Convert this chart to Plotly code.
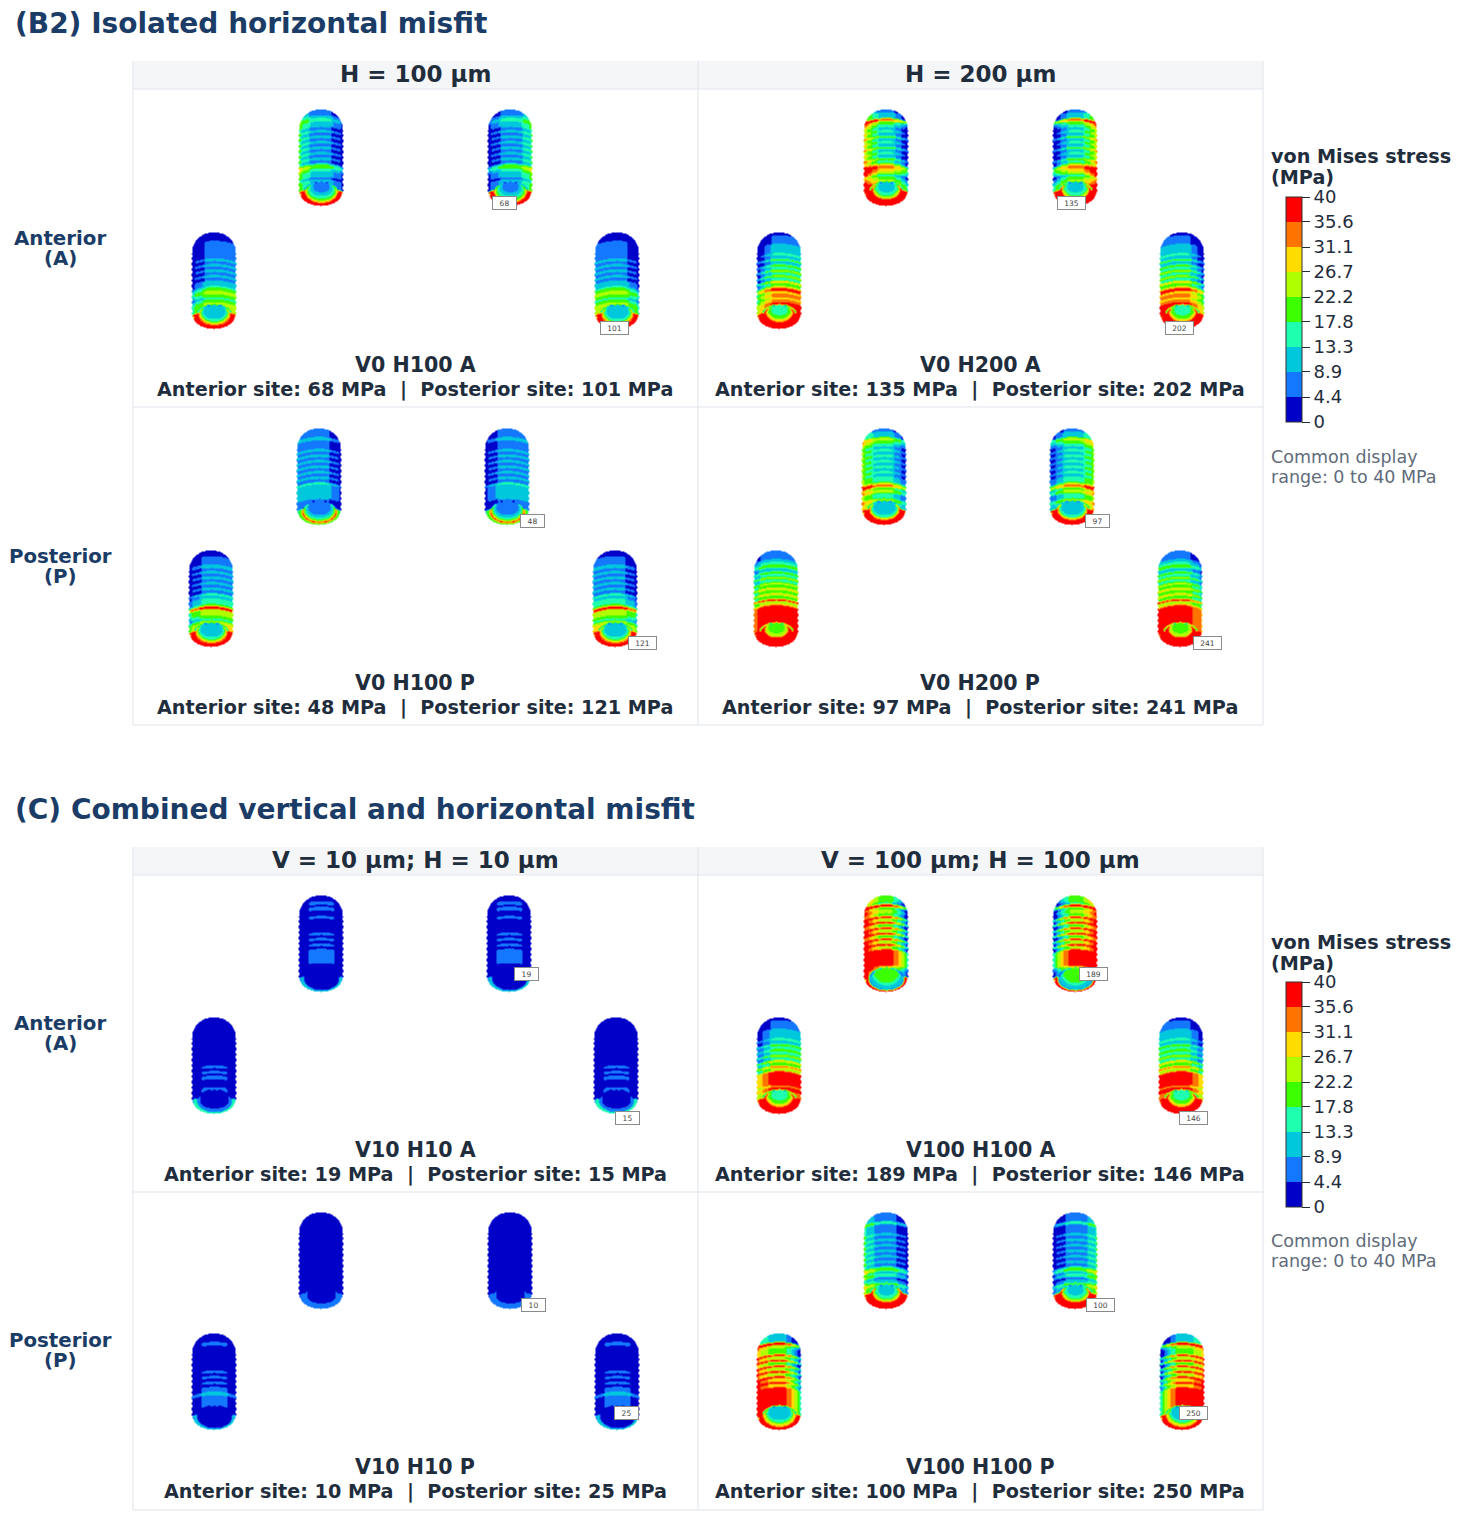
import math
import plotly.graph_objects as go

# ---- colour legend -------------------------------------------------------
LEVEL_COLORS = ["#0000c8", "#1478ff", "#00c8dc", "#1effb0", "#3cff00",
                "#b0ff00", "#ffdc00", "#ff7300", "#ff0000"]
TICK_VALUES = [0, 4.44, 8.89, 13.33, 17.78, 22.22, 26.67, 31.11, 35.56, 40]
TICK_LABELS = ["0", "4.4", "8.9", "13.3", "17.8", "22.2", "26.7", "31.1", "35.6", "40"]

# ---- stress read along each implant, top to bottom, MPa -------------------
# 6 dome rows, 14 thread rows, 7 collar rows
V0H100A_UP = [6,6,11,15,11,11, 6,11,6,11,6,11,6,11,6,11,6,11,6,15, 20,15,11,11,6,11,11]
V0H100A_LO = [2,2,2,6,6,6, 6,6,6,11,6,11,6,11,6,11,6,11,11,15, 20,24,20,15,20,24,24]
V0H200A_UP = [6,11,11,33,20,15, 11,15,11,20,11,15,11,20,11,15,11,20,15,24, 33,29,24,15,20,24,29]
V0H200A_LO = [2,6,6,6,11,11, 11,15,11,20,11,20,15,24,15,24,15,29,20,29, 38,29,33,29,33,38,38]
V0H100P_UP = [6,6,6,11,6,6, 6,11,6,11,6,11,6,11,6,11,6,11,6,15, 11,11,11,11,11,6,6]
V0H100P_LO = [2,2,6,6,6,11, 6,11,6,11,6,11,6,11,6,15,11,15,15,20, 38,24,24,20,15,24,29]
V0H200P_UP = [6,11,11,24,20,15, 11,15,11,15,11,15,11,15,11,15,11,15,15,24, 33,20,24,15,15,24,20]
V0H200P_LO = [6,6,6,11,15,20, 11,20,15,24,15,24,20,29,20,29,20,38,24,33, 38,38,38,38,38,38,38]
V10H10A_UP = [2,2,6,2,6,2, 2,6,2,2,2,2,2,6,2,6,2,6,2,6, 6,6,6,6,2,2,2]
V10H10A_LO = [2,2,2,2,2,2, 2,2,2,2,2,2,2,2,2,2,2,6,2,6, 2,6,2,2,2,6,6]
V100H100A_UP = [20,20,15,38,20,24, 20,38,24,38,20,38,24,38,20,38,24,38,24,38, 38,38,38,38,38,29,24]
V100H100A_LO = [2,6,6,6,11,11, 11,15,11,20,15,20,15,24,15,29,20,33,24,38, 38,38,38,38,33,38,33]
V10H10P_UP = [2,2,2,2,2,2, 2,2,2,2,2,2,2,2,2,2,2,2,2,2, 2,2,2,2,2,2,2]
V10H10P_LO = [2,2,2,6,2,2, 2,2,2,2,2,2,2,6,2,6,2,6,2,6, 6,11,6,6,6,6,2]
V100H100P_UP = [6,6,6,15,6,6, 6,11,6,11,6,11,6,11,6,11,6,11,6,15, 20,11,15,6,11,20,15]
V100H100P_LO = [11,11,11,38,24,20, 20,38,24,38,20,38,24,38,24,38,29,38,29,38, 38,38,38,38,38,38,38]

# opening: from the floor of the bore to its lower wall, MPa
V0H100A_BORE = [[6,11,15,20,29,38], [11,11,15,24,33,38]]
V0H200A_BORE = [[11,15,24,38,38,38], [15,20,29,38,38,38]]
V0H100P_BORE = [[6,6,11,15,24,38], [11,11,15,24,33,38]]
V0H200P_BORE = [[11,11,15,29,38,38], [20,24,38,38,38,38]]
V10H10A_BORE = [[2,2,2,2,2,2], [2,2,2,2,6,6]]
V100H100A_BORE = [[20,20,15,11,11,6], [15,20,29,38,38,38]]
V10H10P_BORE = [[2,2,2,2,6,6], [2,2,2,2,2,2]]
V100H100P_BORE = [[11,15,24,38,38,38], [11,11,15,24,29,38]]

# collar rim: inner, outer, MPa
V0H100A_RIM = [[38,20], [38,24]]
V0H200A_RIM = [[38,38], [38,38]]
V0H100P_RIM = [[20,15], [38,33]]
V0H200P_RIM = [[38,24], [38,38]]
V10H10A_RIM = [[11,2], [15,2]]
V100H100A_RIM = [[38,24], [38,38]]
V10H10P_RIM = [[6,2], [11,2]]
V100H100P_RIM = [[38,33], [38,24]]

# left / right stress offset of each view, MPa (upper-left, upper-right, lower-left, lower-right)
V0H100A_SIDE = [(5,-5), (-5,5), (-5,0), (0,-5)]
V0H200A_SIDE = [(9,-9), (-9,9), (-9,0), (0,-9)]
V0H100P_SIDE = [(0,-5), (-5,0), (-5,0), (0,-5)]
V0H200P_SIDE = [(5,-7), (-7,5), (-2,0), (0,-5)]
V10H10A_SIDE = [(-3,-3), (-3,-3), (-3,-3), (-3,-3)]
V100H100A_SIDE = [(10,-15), (-15,10), (-7,0), (0,-7)]
V10H10P_SIDE = [(0,0), (0,0), (-3,-3), (-3,-3)]
V100H100P_SIDE = [(5,-5), (-5,5), (5,-15), (-15,5)]

# ---- texts ---------------------------------------------------------------
COLUMN_HEADS = [["H = 100 µm", "H = 200 µm"], ["V = 10 µm; H = 10 µm", "V = 100 µm; H = 100 µm"]]
SECTION_TITLES = ["(B2) Isolated horizontal misfit", "(C) Combined vertical and horizontal misfit"]
CASE_NAMES = ["V0 H100 A", "V0 H200 A", "V0 H100 P", "V0 H200 P",
              "V10 H10 A", "V100 H100 A", "V10 H10 P", "V100 H100 P"]
ANTERIOR_MPA = [68, 135, 48, 97, 19, 189, 10, 100]
POSTERIOR_MPA = [101, 202, 121, 241, 15, 146, 25, 250]

# ---- layout of the sheet -------------------------------------------------
NAVY, INK, GREY, RULE = "#1a3c66", "#1f2d3d", "#5f6b7a", "#dfe4ea"
FONT = "DejaVu Sans"
IMPLANT_POS = [
    [(321,110),(510,110),(214,233),(617,233)], [(886,110),(1075,110),(779,233),(1182,233)],
    [(319,429),(507,429),(211,551),(615,551)], [(884,429),(1072,429),(776,551),(1180,551)],
    [(321,896),(509,896),(214,1018),(616,1018)], [(886,896),(1075,896),(779,1018),(1181,1018)],
    [(321,1213),(510,1213),(214,1334),(617,1334)], [(886,1213),(1075,1213),(779,1334),(1182,1334)],
]
TAG_POS = [
    [(504,203),(614,328)], [(1071,203),(1179,328)], [(532,521),(642,643)], [(1097,521),(1207,643)],
    [(526,974),(627,1118)], [(1093,974),(1193,1118)], [(533,1305),(626,1413)], [(1100,1305),(1193,1413)],
]
PROFILES = [
    (V0H100A_UP, V0H100A_LO, V0H100A_BORE, V0H100A_RIM, V0H100A_SIDE),
    (V0H200A_UP, V0H200A_LO, V0H200A_BORE, V0H200A_RIM, V0H200A_SIDE),
    (V0H100P_UP, V0H100P_LO, V0H100P_BORE, V0H100P_RIM, V0H100P_SIDE),
    (V0H200P_UP, V0H200P_LO, V0H200P_BORE, V0H200P_RIM, V0H200P_SIDE),
    (V10H10A_UP, V10H10A_LO, V10H10A_BORE, V10H10A_RIM, V10H10A_SIDE),
    (V100H100A_UP, V100H100A_LO, V100H100A_BORE, V100H100A_RIM, V100H100A_SIDE),
    (V10H10P_UP, V10H10P_LO, V10H10P_BORE, V10H10P_RIM, V10H10P_SIDE),
    (V100H100P_UP, V100H100P_LO, V100H100P_BORE, V100H100P_RIM, V100H100P_SIDE),
]

def bar_colorscale():
    n = len(LEVEL_COLORS)
    g = 0.0022
    stops = [[0, "#333333"], [g, "#333333"]]
    for i, c in enumerate(LEVEL_COLORS):
        a = max(i / n + g, g)
        b = min((i + 1) / n - g, 1.0)
        stops += [[a, c], [b, c]]
        if i < n - 1:
            stops += [[b, "#222222"], [(i + 1) / n + g, "#222222"]]
    stops[-1][0] = 1.0
    return stops

def body_colorscale():
    n = len(LEVEL_COLORS)
    stops = [[0, "#10261c"], [0.012, "#10261c"]]
    for i, c in enumerate(LEVEL_COLORS):
        stops += [[max(i / n, 0.012), c], [(i + 1) / n, c]]
    return stops

def snap(v):
    n = len(LEVEL_COLORS)
    i = min(n - 1, max(0, int(v // (40 / n))))
    return (i + 0.5) * 40 / n

def implant_matrix(rows, bore, rim, side):
    W, H = 45, 97
    RX, RY, CY = 17.5, 11.5, 83.0
    PERIOD = 5.5
    T0, DOME_H, COLLAR_H = 16.5, 2.75, 2.9
    matrix = []
    for yi in range(H):
        y = yi + 0.5
        if y < 21:
            hw = 22 * max(0, 1 - ((21 - y) / 21) ** 2) ** 0.45
        elif y > 82:
            hw = 21.5 * math.sqrt(max(0, 1 - ((y - 82) / 14.5) ** 2))
        else:
            hw = 21.5 + (0.8 if int(y / 2.75) % 2 else 0)
        line = []
        for xi in range(W):
            x = xi - 22
            if abs(x) > hw:
                line.append(None)
                continue
            u = x / 22
            ex = x / RX
            ey = (y - CY) / RY
            d = ex * ex + ey * ey
            if d <= 1:
                if d > 0.9 and y < CY - 3:
                    line.append(0)
                    continue
                Y = y - (CY - RY)
                s = (x * x / RX ** 2 + Y * Y / RY ** 2) / (2 * Y / RY) if Y > 0 else 1
                line.append(snap(bore[min(5, int(min(1, s) ** 2.5 * 6))]))
                continue
            if d < 1.45 and y > CY - 2:
                line.append(snap(rim[0]))
                continue
            if y > CY:
                if abs(x) > hw - 1.2 or y > 95:
                    line.append(0 if rim[1] < 9 else snap(rim[1] - 14))
                else:
                    line.append(snap(rim[1]))
                continue
            # rows arch over the cylinder; ridges are thinner than grooves
            ye = y - 4.0 * u * u
            if ye < T0:
                r = max(0, int(ye / DOME_H))
            elif ye < T0 + 7 * PERIOD:
                q = (ye - T0) / PERIOD
                r = 6 + 2 * int(q) + (1 if q - int(q) > 0.68 else 0)
            else:
                r = 20 + int((ye - T0 - 7 * PERIOD) / COLLAR_H)
            r = min(len(rows) - 1, r)
            v = rows[r]
            off = side[0] if u < 0 else side[1]
            v += off * 1.5 * min(1.0, abs(u) / 0.95) ** 2
            line.append(snap(min(39.5, max(0.5, v))))
        matrix.append(line)
    return matrix

fig = go.Figure()
for p, (up, lo, bore, rim, side) in enumerate(PROFILES):
    for k in range(4):
        which = 0 if k < 2 else 1
        cx, top = IMPLANT_POS[p][k]
        z = implant_matrix(up if which == 0 else lo, bore[which], rim[which], side[k])
        fig.add_trace(go.Heatmap(
            z=z, x0=cx - 22, dx=1, y0=top, dy=1, zsmooth="best", hoverinfo="skip",
            coloraxis="coloraxis3",
        ))
# the two colour legends
for axis in ("coloraxis", "coloraxis2"):
    fig.add_trace(go.Heatmap(z=[[v] for v in TICK_VALUES], x0=10, dx=1, y0=700, dy=1, opacity=0,
                             hoverinfo="skip", coloraxis=axis))

def note(x, y, text, size, color, bold=True, anchor="center"):
    fig.add_annotation(x=x - (2.5 if anchor == "left" else 0), y=y, xref="x", yref="y",
                       text=f"<b>{text}</b>" if bold else text,
                       showarrow=False, xanchor=anchor, yanchor="middle",
                       font=dict(family=FONT, size=size, color=color))

shapes = []
def line(x0, y0, x1, y1):
    shapes.append(dict(type="line", x0=x0, y0=y0, x1=x1, y1=y1, xref="x", yref="y",
                       line=dict(color=RULE, width=1), layer="below"))

for s, oy in enumerate([0, 786]):
    d = 1 if s else 0
    note(15, 23 + oy, SECTION_TITLES[s], 28, NAVY, anchor="left")
    shapes.append(dict(type="rect", x0=133, x1=1263, y0=61 + oy, y1=89 + oy, xref="x", yref="y",
                       fillcolor="#f5f6f8", line=dict(width=0), layer="below"))
    line(133, 89 + oy, 1263, 89 + oy)
    line(133, 61 + oy, 133, 725 + oy - d)
    line(698, 61 + oy, 698, 725 + oy - d)
    line(1263, 61 + oy, 1263, 725 + oy - d)
    line(133, 407 + oy - d, 1263, 407 + oy - d)
    line(133, 725 + oy - d, 1263, 725 + oy - d)
    note(415, 74 + oy, COLUMN_HEADS[s][0], 23, INK)
    note(980, 74 + oy, COLUMN_HEADS[s][1], 23, INK)
    note(60, 238 + oy - d, "Anterior", 19.8, NAVY)
    note(60, 258 + oy - d, "(A)", 19.8, NAVY)
    note(60, 556 + oy - 2 * d, "Posterior", 19.8, NAVY)
    note(60, 576 + oy - 2 * d, "(P)", 19.8, NAVY)
    note(1271, 156 + oy, "von Mises stress", 19.2, INK, anchor="left")
    note(1271, 177 + oy, "(MPa)", 19.2, INK, anchor="left")
    note(1271, 457 + oy - 2 * d, "Common display", 17.5, GREY, bold=False, anchor="left")
    note(1271, 477 + oy - 2 * d, "range: 0 to 40 MPa", 17.5, GREY, bold=False, anchor="left")

CASE_Y = [(365, 389), (365, 389), (683, 707), (683, 707), (1150, 1174), (1150, 1174), (1467, 1491), (1467, 1491)]
for p, name in enumerate(CASE_NAMES):
    cx = 415 if p % 2 == 0 else 980
    note(cx, CASE_Y[p][0], name, 20.6, INK)
    note(cx, CASE_Y[p][1], f"Anterior site: {ANTERIOR_MPA[p]} MPa  |  Posterior site: {POSTERIOR_MPA[p]} MPa", 19.2, INK)
    for (tx, ty), val in zip(TAG_POS[p], (ANTERIOR_MPA[p], POSTERIOR_MPA[p])):
        fig.add_annotation(x=tx, y=ty, xref="x", yref="y", text=str(val), showarrow=False,
                           font=dict(family=FONT, size=7.5, color="#444444"), bgcolor="#ffffff",
                           bordercolor="#8a8a8a", borderwidth=1, borderpad=1.5,
                           width=20 if val < 100 else 24)

def bar(top):
    return dict(thickness=16, thicknessmode="pixels", len=225, lenmode="pixels",
                x=1286 / 1461, xanchor="left", xpad=0, y=1 - top / 1519, yanchor="top", ypad=0,
                tickmode="array", tickvals=TICK_VALUES, ticktext=TICK_LABELS, ticks="outside",
                ticklen=8, tickwidth=1, tickcolor=INK, outlinecolor="#333333", outlinewidth=1,
                tickfont=dict(family=FONT, size=18, color=INK))

cs = bar_colorscale()
fig.update_layout(
    width=1461, height=1519, margin=dict(l=0, r=0, t=0, b=0), paper_bgcolor="white",
    plot_bgcolor="white", showlegend=False, shapes=shapes, font=dict(family=FONT),
    xaxis=dict(range=[0, 1461], visible=False, domain=[0, 1], fixedrange=True),
    yaxis=dict(range=[1519, 0], visible=False, domain=[0, 1], fixedrange=True),
    coloraxis=dict(cmin=0, cmax=40, colorscale=cs, colorbar=bar(197)),
    coloraxis2=dict(cmin=0, cmax=40, colorscale=cs, colorbar=bar(982)),
    coloraxis3=dict(cmin=0, cmax=40, colorscale=body_colorscale(), showscale=False),
)
fig.write_html("out.html", post_script="document.body.style.margin='0';",
               config={"displayModeBar": False})
